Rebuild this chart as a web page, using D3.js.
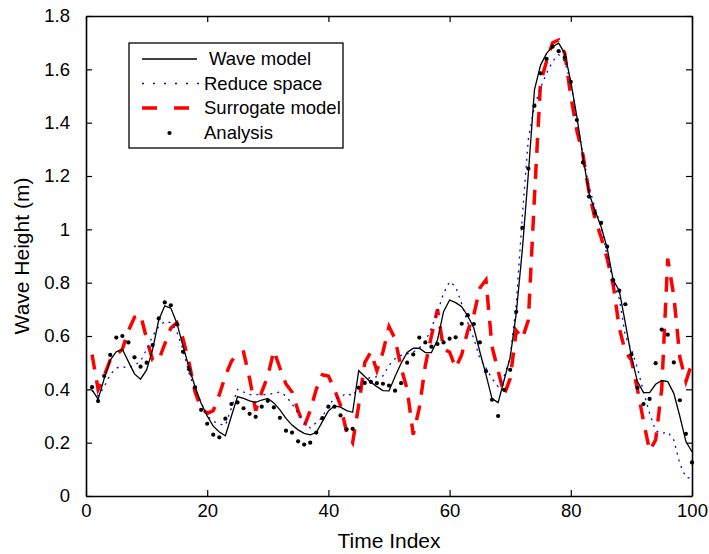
<!DOCTYPE html>
<html>
<head>
<meta charset="utf-8">
<script src="https://cdn.jsdelivr.net/npm/d3@7"></script>
<style>
  body { margin: 0; background: #fff; }
  svg text { font-family: "Liberation Sans", Arial, sans-serif; fill: #000; }
</style>
</head>
<body>
<div class="container"></div>
<script>
// DATA (one value per time index 1..100)
const waveModel = [
  0.398, 0.363, 0.44, 0.51, 0.541, 0.55, 0.504, 0.458, 0.438, 0.473,
  0.55, 0.66, 0.713, 0.704, 0.648, 0.563, 0.482, 0.41, 0.348, 0.30,
  0.262, 0.24, 0.226, 0.30, 0.373, 0.366, 0.357, 0.351, 0.36, 0.366,
  0.349, 0.323, 0.291, 0.266, 0.248, 0.235, 0.229, 0.238, 0.279, 0.319,
  0.338, 0.333, 0.32, 0.314, 0.47, 0.448, 0.427, 0.41, 0.395, 0.394,
  0.448, 0.498, 0.538, 0.554, 0.554, 0.538, 0.538, 0.585, 0.691, 0.735,
  0.725, 0.71, 0.675, 0.63, 0.54, 0.455, 0.365, 0.35, 0.435, 0.52,
  0.685, 0.923, 1.21, 1.523, 1.615, 1.66, 1.685, 1.698, 1.66, 1.554,
  1.423, 1.273, 1.135, 1.07, 1.01, 0.93, 0.81, 0.77, 0.648, 0.523,
  0.429, 0.388, 0.388, 0.419, 0.433, 0.429, 0.385, 0.298, 0.204, 0.166
];

const reduceSpace = [
  0.395, 0.375, 0.41, 0.455, 0.48, 0.485, 0.48, 0.49, 0.505, 0.55,
  0.60, 0.635, 0.655, 0.65, 0.615, 0.55, 0.46, 0.40, 0.35, 0.30,
  0.28, 0.27, 0.265, 0.33, 0.40, 0.39, 0.38, 0.38, 0.38, 0.38,
  0.385, 0.39, 0.375, 0.345, 0.31, 0.275, 0.255, 0.275, 0.295, 0.34,
  0.365, 0.372, 0.385, 0.375, 0.41, 0.435, 0.445, 0.447, 0.45, 0.49,
  0.515, 0.527, 0.533, 0.54, 0.555, 0.58, 0.63, 0.69, 0.76, 0.804,
  0.785, 0.72, 0.65, 0.59, 0.516, 0.48, 0.44, 0.41, 0.45, 0.52,
  0.72, 1.05, 1.34, 1.46, 1.53, 1.585, 1.63, 1.655, 1.63, 1.55,
  1.41, 1.28, 1.16, 1.08, 1.01, 0.90, 0.80, 0.74, 0.60, 0.55,
  0.48, 0.39, 0.31, 0.245, 0.235, 0.24, 0.21, 0.12, 0.07, 0.065
];

const surrogateModel = [
  0.53, 0.40, 0.45, 0.51, 0.53, 0.55, 0.62, 0.67, 0.68, 0.59,
  0.51, 0.51, 0.57, 0.63, 0.65, 0.59, 0.50, 0.39, 0.33, 0.31,
  0.32, 0.38, 0.45, 0.505, 0.535, 0.54, 0.44, 0.32, 0.39, 0.45,
  0.545, 0.48, 0.42, 0.39, 0.32, 0.26, 0.32, 0.40, 0.455, 0.45,
  0.40, 0.34, 0.24, 0.20, 0.34, 0.50, 0.54, 0.47, 0.54, 0.635,
  0.59, 0.48, 0.40, 0.23, 0.33, 0.49, 0.60, 0.70, 0.55, 0.54,
  0.48, 0.53, 0.62, 0.68, 0.78, 0.81, 0.56, 0.47, 0.38, 0.44,
  0.62, 0.59, 0.66, 1.12, 1.55, 1.63, 1.70, 1.71, 1.66, 1.50,
  1.37, 1.28, 1.14, 1.04, 0.97, 0.89, 0.79, 0.63, 0.54, 0.51,
  0.40, 0.28, 0.17, 0.21, 0.40, 0.89, 0.75, 0.52, 0.43, 0.50
];

const analysis = [
  0.408, 0.356, 0.45, 0.529, 0.594, 0.60, 0.576, 0.52, 0.485, 0.50,
  0.566, 0.666, 0.726, 0.715, 0.644, 0.541, 0.475, 0.407, 0.323, 0.271,
  0.23, 0.22, 0.29, 0.345, 0.351, 0.329, 0.308, 0.297, 0.335, 0.357,
  0.332, 0.293, 0.245, 0.238, 0.205, 0.193, 0.20, 0.238, 0.292, 0.335,
  0.335, 0.302, 0.25, 0.252, 0.406, 0.424, 0.428, 0.423, 0.421, 0.414,
  0.395, 0.423, 0.50, 0.531, 0.594, 0.576, 0.56, 0.57, 0.576, 0.59,
  0.595, 0.646, 0.678, 0.645, 0.576, 0.468, 0.361, 0.30, 0.398, 0.473,
  0.691, 1.006, 1.228, 1.463, 1.585, 1.639, 1.685, 1.668, 1.644, 1.553,
  1.41, 1.251, 1.123, 1.061, 1.024, 0.935, 0.81, 0.77, 0.719, 0.531,
  0.406, 0.345, 0.364, 0.498, 0.624, 0.605, 0.501, 0.359, 0.233, 0.126
];

const xTicks = [0, 20, 40, 60, 80, 100];
const yTicks = [0, 0.2, 0.4, 0.6, 0.8, 1, 1.2, 1.4, 1.6, 1.8];
const yTickLabels = ["0", "0.2", "0.4", "0.6", "0.8", "1", "1.2", "1.4", "1.6", "1.8"];

const legendLabels = ["Wave model", "Reduce space", "Surrogate model", "Analysis"];

// SETUP
const width = 709;
const height = 554;
const margin = { top: 16, right: 17, bottom: 58, left: 86 };
const innerW = width - margin.left - margin.right;
const innerH = height - margin.top - margin.bottom;

const svg = d3.select(".container")
    .append("svg")
    .attr("width", width)
    .attr("height", height);

const g = svg.append("g")
    .attr("transform", `translate(${margin.left},${margin.top})`);

const xScale = d3.scaleLinear().domain([0, 100]).range([0, innerW]);
const yScale = d3.scaleLinear().domain([0, 1.8]).range([innerH, 0]);

// time index of each sample is its position in the arrays
const toPoints = arr => arr.map((v, i) => [i + 1, v]);

const line = d3.line()
    .x(d => xScale(d[0]))
    .y(d => yScale(d[1]));

// AXES (matlab style: ticks inside, mirrored on the box)
const tickLen = 6;
const axisFont = "18.5px";

const xAxis = g.append("g")
    .attr("transform", `translate(0,${innerH})`)
    .call(d3.axisBottom(xScale).tickValues(xTicks).tickSizeInner(-tickLen).tickSizeOuter(0).tickPadding(8));
xAxis.selectAll("text").style("font-size", axisFont);

const xAxisTop = g.append("g")
    .call(d3.axisTop(xScale).tickValues(xTicks).tickSizeInner(-tickLen).tickSizeOuter(0).tickFormat(""));

const yAxis = g.append("g")
    .call(d3.axisLeft(yScale).tickValues(yTicks).tickSizeInner(-tickLen).tickSizeOuter(0).tickPadding(16)
        .tickFormat((d, i) => yTickLabels[i]));
yAxis.selectAll("text").style("font-size", axisFont);

const yAxisRight = g.append("g")
    .attr("transform", `translate(${innerW},0)`)
    .call(d3.axisRight(yScale).tickValues(yTicks).tickSizeInner(-tickLen).tickSizeOuter(0).tickFormat(""));

[xAxis, xAxisTop, yAxis, yAxisRight].forEach(a => {
  a.select(".domain").attr("stroke", "#000").attr("stroke-width", 1.6);
  a.selectAll(".tick line").attr("stroke", "#000").attr("stroke-width", 1.2);
});

// AXIS TITLES
svg.append("text")
    .attr("x", margin.left + innerW / 2)
    .attr("y", 548)
    .attr("text-anchor", "middle")
    .style("font-size", "21px")
    .text("Time Index");

svg.append("text")
    .attr("transform", `translate(29,${margin.top + innerH / 2}) rotate(-90)`)
    .attr("text-anchor", "middle")
    .style("font-size", "21px")
    .text("Wave Height (m)");

// SERIES
const plot = g.append("g");

plot.append("path")
    .datum(toPoints(surrogateModel))
    .attr("fill", "none")
    .attr("stroke", "#ff0000")
    .attr("stroke-width", 3.5)
    .attr("stroke-dasharray", "15,11")
    .attr("d", line);

plot.append("path")
    .datum(toPoints(reduceSpace))
    .attr("fill", "none")
    .attr("stroke", "#0000ff")
    .attr("stroke-width", 1.3)
    .attr("stroke-dasharray", "2,5")
    .attr("d", line);

plot.append("path")
    .datum(toPoints(waveModel))
    .attr("fill", "none")
    .attr("stroke", "#000")
    .attr("stroke-width", 1.3)
    .attr("d", line);

plot.selectAll("circle.analysis")
    .data(toPoints(analysis))
    .enter()
    .append("circle")
    .attr("class", "analysis")
    .attr("cx", d => xScale(d[0]))
    .attr("cy", d => yScale(d[1]))
    .attr("r", 2.1)
    .attr("fill", "#000");

// LEGEND
const legend = svg.append("g");
legend.append("rect")
    .attr("x", 129).attr("y", 43)
    .attr("width", 214).attr("height", 105)
    .attr("fill", "#fff")
    .attr("stroke", "#000")
    .attr("stroke-width", 1.3);

const rowY = [59, 83.5, 108, 133];
const sx0 = 142, sx1 = 197;

legend.append("line").attr("x1", sx0).attr("x2", sx1).attr("y1", rowY[0]).attr("y2", rowY[0])
    .attr("stroke", "#000").attr("stroke-width", 1.3);
legend.append("line").attr("x1", sx0).attr("x2", sx1 + 2).attr("y1", rowY[1]).attr("y2", rowY[1])
    .attr("stroke", "#0000ff").attr("stroke-width", 1.3).attr("stroke-dasharray", "2,9");
legend.append("line").attr("x1", sx0).attr("x2", sx1 + 2).attr("y1", rowY[2]).attr("y2", rowY[2])
    .attr("stroke", "#ff0000").attr("stroke-width", 3.5).attr("stroke-dasharray", "15,17");
legend.append("circle").attr("cx", (sx0 + sx1) / 2).attr("cy", rowY[3]).attr("r", 2.1).attr("fill", "#000");

legend.selectAll("text.lbl")
    .data(legendLabels)
    .enter()
    .append("text")
    .attr("class", "lbl")
    .attr("x", (d, i) => i === 0 ? 209 : 204)
    .attr("y", (d, i) => rowY[i])
    .attr("dy", "0.35em")
    .style("font-size", "18.5px")
    .text(d => d);
</script>
</body>
</html>
